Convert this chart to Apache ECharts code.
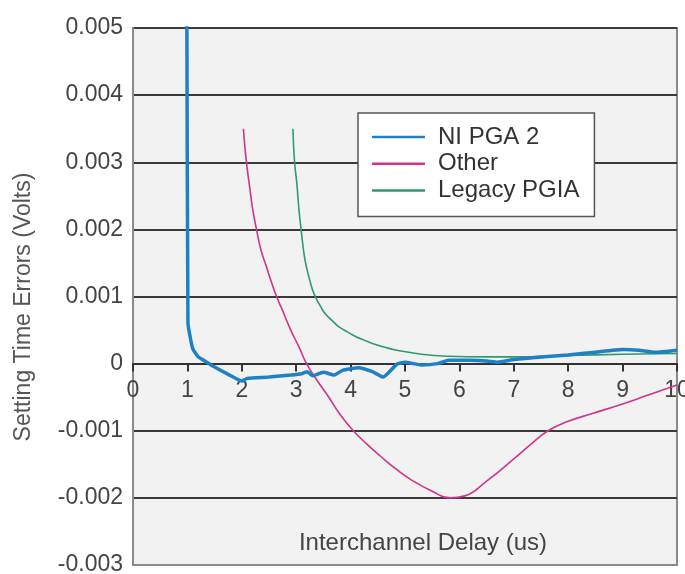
<!DOCTYPE html>
<html><head><meta charset="utf-8">
<script src="https://cdn.jsdelivr.net/npm/echarts@6.0.0/dist/echarts.min.js"></script>
<style>html,body{margin:0;padding:0;background:#fff}#c{width:685px;height:574px}</style>
</head><body><div id="c"></div>
<script>
// Series names
const seriesNames = ['NI PGA 2', 'Other', 'Legacy PGIA'];
// Axis texts
const xTitle = 'Interchannel Delay (us)';
const yTitle = 'Setting Time Errors (Volts)';
// NI PGA 2
const niX = [0.99, 1.01, 1.05, 1.1, 1.2, 1.3, 1.5, 1.75, 2.0, 2.1, 2.5, 2.9, 3.1, 3.2, 3.3, 3.5, 3.7, 3.85, 4.15, 4.4, 4.6, 4.85, 5.0, 5.3, 5.6, 5.8, 6.2, 6.5, 6.7, 7.0, 7.5, 8.0, 8.5, 9.0, 9.3, 9.6, 10.0];
const niY = [0.0052, 0.0006, 0.0004, 0.00022, 0.0001, 0.00005, -0.00005, -0.00016, -0.00026, -0.00022, -0.0002, -0.00017, -0.00015, -0.00012, -0.00018, -0.00013, -0.00017, -0.0001, -0.00006, -0.00012, -0.0002, -0.00001, 0.00002, -0.00002, 0.0, 0.00005, 0.00005, 0.00004, 0.00002, 0.00006, 0.0001, 0.00013, 0.00017, 0.00021, 0.0002, 0.00017, 0.0002];
// Other
const otherX = [2.03, 2.06, 2.1, 2.15, 2.2, 2.27, 2.35, 2.45, 2.55, 2.64, 2.77, 2.9, 3.05, 3.19, 3.4, 3.6, 3.8, 4.05, 4.3, 4.55, 4.85, 5.15, 5.5, 5.83, 6.1, 6.5, 7.0, 7.3, 7.63, 8.0, 8.46, 9.0, 9.5, 10.0];
const otherY = [0.0035, 0.0032, 0.0029, 0.0026, 0.0023, 0.002, 0.0017, 0.00145, 0.0012, 0.001, 0.00075, 0.0005, 0.00025, 0.0, -0.00027, -0.0005, -0.00075, -0.001, -0.0012, -0.00138, -0.00158, -0.00175, -0.0019, -0.002, -0.00197, -0.00175, -0.00142, -0.00121, -0.001, -0.00086, -0.00074, -0.0006, -0.00046, -0.00032];
// Legacy PGIA
const legacyX = [2.94, 2.97, 3.01, 3.05, 3.09, 3.15, 3.2, 3.25, 3.3, 3.35, 3.4, 3.45, 3.5, 3.56, 3.62, 3.7, 3.8, 3.95, 4.1, 4.25, 4.4, 4.6, 4.85, 5.3, 5.8, 6.5, 7.0, 8.0, 9.0, 10.0];
const legacyY = [0.0035, 0.003, 0.0027, 0.0023, 0.002, 0.0016, 0.0014, 0.00124, 0.0011, 0.001, 0.00092, 0.00085, 0.00078, 0.00072, 0.00067, 0.00061, 0.00054, 0.00047, 0.0004, 0.00035, 0.0003, 0.00025, 0.0002, 0.00014, 0.00011, 0.0001, 0.0001, 0.00012, 0.00014, 0.00015];

const zip = (xs, ys) => xs.map((x, i) => [x, ys[i]]);
const FONT = 'Liberation Sans, Arial, sans-serif';

const chart = echarts.init(document.getElementById('c'), null, {renderer: 'canvas'});
chart.setOption({
  animation: false,
  backgroundColor: '#fff',
  grid: {left: 133, top: 28, right: 8, bottom: 9, outerBoundsMode: 'none', containLabel: false, show: true, backgroundColor: '#f2f2f2', borderColor: '#8a8a8a', borderWidth: 2},
  legend: {
    data: seriesNames.map(n => ({name: n, icon: 'rect'})),
    orient: 'vertical', left: 358, top: 113,
    padding: [12, 15, 14, 14],
    itemWidth: 53, itemHeight: 2.5, itemGap: 2.7,
    backgroundColor: '#fff', borderColor: '#555', borderWidth: 1.5, borderRadius: 0,
    textStyle: {fontSize: 24, color: '#333', fontFamily: FONT, padding: [0, 0, 0, 8]}
  },
  xAxis: {
    type: 'value', min: 0, max: 10, interval: 1, position: 'bottom', offset: -201.4,
    axisLine: {onZero: false, lineStyle: {color: '#333', width: 2}},
    axisTick: {show: true, inside: false, length: 8, lineStyle: {color: '#333', width: 2}},
    axisLabel: {fontSize: 23, color: '#444', fontFamily: FONT, margin: 16},
    splitLine: {show: false}
  },
  yAxis: {
    type: 'value', min: -0.003, max: 0.005, interval: 0.001,
    axisLine: {show: true, lineStyle: {color: '#8a8a8a', width: 2}},
    axisTick: {show: false},
    axisLabel: {fontSize: 23, color: '#444', fontFamily: FONT, margin: 10,
      formatter: v => Math.abs(v) < 1e-9 ? '0' : v.toFixed(3)},
    splitLine: {show: true, lineStyle: {color: ['#8a8a8a', '#3a3a3a', '#3a3a3a', '#3a3a3a', '#3a3a3a', '#3a3a3a', '#3a3a3a', '#3a3a3a', '#3a3a3a'], width: 2}}
  },
  graphic: [
    {type: 'text', x: 423, y: 543, style: {text: xTitle, fontSize: 24, fill: '#444', fontFamily: FONT, textAlign: 'center', textVerticalAlign: 'middle'}},
    {type: 'text', x: 24, y: 307, rotation: Math.PI / 2, style: {text: yTitle, fontSize: 23, fill: '#555', fontFamily: FONT, textAlign: 'center', textVerticalAlign: 'middle'}}
  ],
  series: [
    {name: seriesNames[1], type: 'line', data: zip(otherX, otherY), symbol: 'none', smooth: 0.5, lineStyle: {color: '#d0348c', width: 1.6}, itemStyle: {color: '#d0348c'}, z: 2},
    {name: seriesNames[2], type: 'line', data: zip(legacyX, legacyY), symbol: 'none', smooth: 0.5, lineStyle: {color: '#2f9a6c', width: 1.6}, itemStyle: {color: '#2f9a6c'}, z: 3},
    {name: seriesNames[0], type: 'line', data: zip(niX, niY), symbol: 'none', smooth: 0.15, lineStyle: {color: '#1f80c6', width: 3.5}, itemStyle: {color: '#1f80c6'}, z: 4}
  ]
});
</script></body></html>
